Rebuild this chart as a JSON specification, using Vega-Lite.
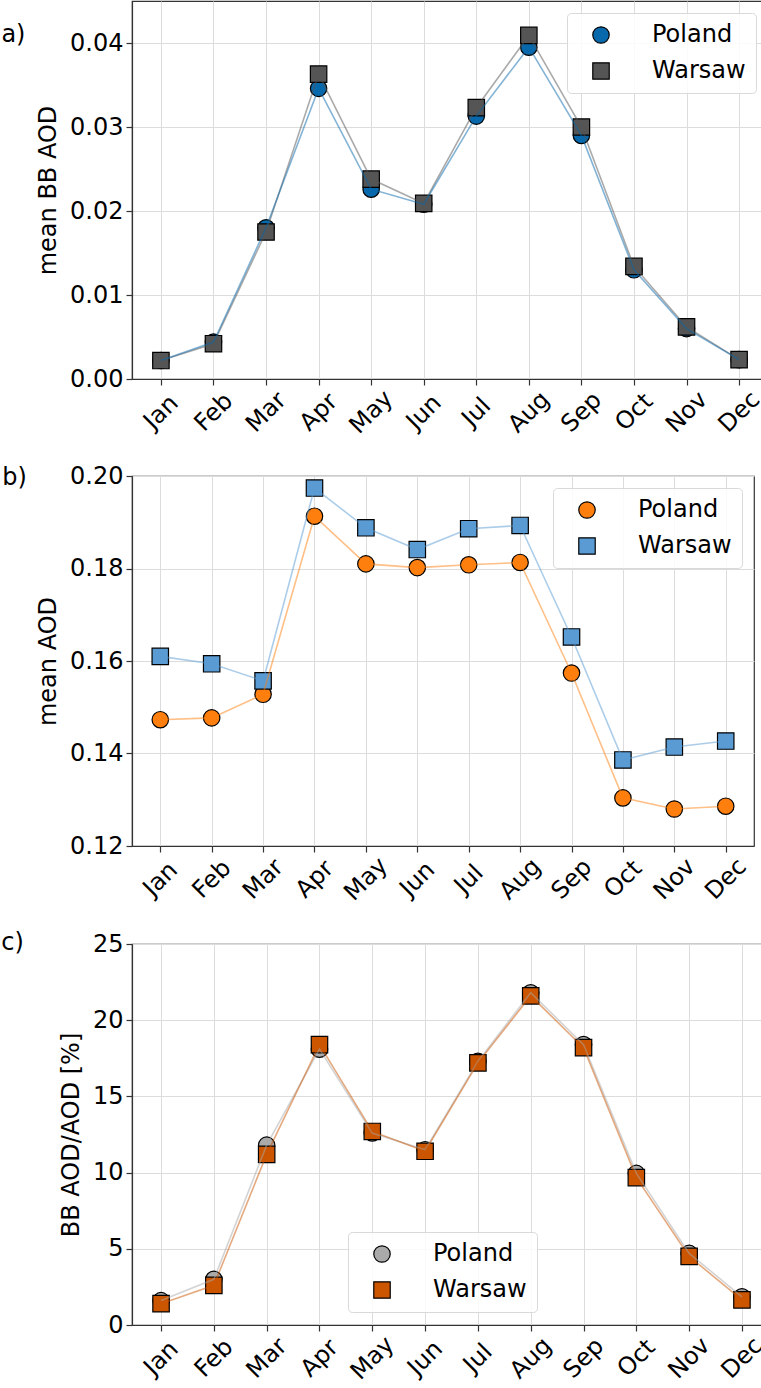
{
  "$schema": "https://vega.github.io/schema/vega-lite/v6.json",
  "padding": {"left": 0, "top": 0, "right": 0, "bottom": 0},
  "spacing": 24,
  "align": "none",
  "resolve": {"scale": {"color": "independent", "shape": "independent"}, "legend": {"color": "independent", "shape": "independent"}},
  "data": {"values": [
    {"month": "Jan", "region": "Poland", "bb": 0.0022, "aod": 0.1473, "ratio": 1.6},
    {"month": "Feb", "region": "Poland", "bb": 0.0044, "aod": 0.1477, "ratio": 3.0},
    {"month": "Mar", "region": "Poland", "bb": 0.0180, "aod": 0.1528, "ratio": 11.8},
    {"month": "Apr", "region": "Poland", "bb": 0.0346, "aod": 0.1913, "ratio": 18.1},
    {"month": "May", "region": "Poland", "bb": 0.0226, "aod": 0.1810, "ratio": 12.6},
    {"month": "Jun", "region": "Poland", "bb": 0.0208, "aod": 0.1802, "ratio": 11.5},
    {"month": "Jul", "region": "Poland", "bb": 0.0313, "aod": 0.1808, "ratio": 17.3},
    {"month": "Aug", "region": "Poland", "bb": 0.0395, "aod": 0.1813, "ratio": 21.8},
    {"month": "Sep", "region": "Poland", "bb": 0.0290, "aod": 0.1574, "ratio": 18.4},
    {"month": "Oct", "region": "Poland", "bb": 0.0130, "aod": 0.1304, "ratio": 9.95},
    {"month": "Nov", "region": "Poland", "bb": 0.0060, "aod": 0.1280, "ratio": 4.7},
    {"month": "Dec", "region": "Poland", "bb": 0.0023, "aod": 0.1286, "ratio": 1.85},
    {"month": "Jan", "region": "Warsaw", "bb": 0.0022, "aod": 0.1610, "ratio": 1.4},
    {"month": "Feb", "region": "Warsaw", "bb": 0.0042, "aod": 0.1594, "ratio": 2.6},
    {"month": "Mar", "region": "Warsaw", "bb": 0.0175, "aod": 0.1557, "ratio": 11.2},
    {"month": "Apr", "region": "Warsaw", "bb": 0.0363, "aod": 0.1974, "ratio": 18.4},
    {"month": "May", "region": "Warsaw", "bb": 0.0238, "aod": 0.1888, "ratio": 12.7},
    {"month": "Jun", "region": "Warsaw", "bb": 0.0209, "aod": 0.1841, "ratio": 11.4},
    {"month": "Jul", "region": "Warsaw", "bb": 0.0323, "aod": 0.1886, "ratio": 17.2},
    {"month": "Aug", "region": "Warsaw", "bb": 0.0409, "aod": 0.1893, "ratio": 21.6},
    {"month": "Sep", "region": "Warsaw", "bb": 0.0300, "aod": 0.1652, "ratio": 18.2},
    {"month": "Oct", "region": "Warsaw", "bb": 0.0134, "aod": 0.1386, "ratio": 9.67},
    {"month": "Nov", "region": "Warsaw", "bb": 0.0062, "aod": 0.1414, "ratio": 4.5},
    {"month": "Dec", "region": "Warsaw", "bb": 0.0023, "aod": 0.1427, "ratio": 1.65}
  ]},
  "config": {
    "font": "DejaVu Sans",
    "view": {"stroke": "#333333", "strokeWidth": 1.2},
    "axis": {
      "labelFont": "DejaVu Sans", "labelFontSize": 24, "labelColor": "black",
      "titleFont": "DejaVu Sans", "titleFontSize": 24, "titleFontWeight": "normal", "titleColor": "black",
      "grid": true, "gridColor": "#dcdcdc", "gridWidth": 1,
      "tickColor": "#333333", "tickSize": 6, "tickWidth": 1.2,
      "domainColor": "#333333", "domainWidth": 1.2,
      "labelPadding": 3, "titlePadding": 9
    },
    "axisX": {"labelAngle": -45, "labelAlign": "center", "labelBaseline": "middle", "labelPadding": 27, "labelOverlap": false, "labelFlush": false},
    "legend": {
      "labelFont": "DejaVu Sans", "labelFontSize": 24, "labelColor": "black",
      "symbolSize": 270, "symbolStrokeColor": "black", "symbolStrokeWidth": 1.2,
      "fillColor": "rgba(255,255,255,0.85)", "strokeColor": "#d9d9d9", "cornerRadius": 4,
      "padding": 10, "rowPadding": 12, "labelOffset": 39, "symbolOffset": 12, "offset": 12
    },
    "title": {"font": "DejaVu Sans", "fontSize": 24, "fontWeight": "normal", "color": "black", "orient": "left", "anchor": "end", "angle": 0, "align": "right", "baseline": "middle", "frame": "group"}
  },
  "vconcat": [
    {
      "width": 636, "height": 378,
      "title": {"text": "a)", "offset": -21, "dy": 22, "dx": -8},
      "encoding": {
        "x": {"field": "month", "type": "ordinal", "sort": ["Jan","Feb","Mar","Apr","May","Jun","Jul","Aug","Sep","Oct","Nov","Dec"], "scale": {"type": "point", "padding": 0.55}, "axis": {"title": null}},
        "y": {"field": "bb", "type": "quantitative", "scale": {"domain": [0, 0.045], "nice": false, "zero": false}, "axis": {"values": [0, 0.01, 0.02, 0.03, 0.04], "format": ".2f", "title": "mean BB AOD"}}
      },
      "layer": [
        {
          "mark": {"type": "point", "filled": true, "opacity": 1, "stroke": "black", "strokeWidth": 1.2, "size": 270},
          "encoding": {
            "color": {"field": "region", "type": "nominal", "scale": {"domain": ["Poland", "Warsaw"], "range": ["#0868ac", "#555555"]}, "legend": {"title": null, "orient": "top-right"}},
            "shape": {"field": "region", "type": "nominal", "scale": {"domain": ["Poland", "Warsaw"], "range": ["circle", "square"]}, "legend": {"title": null, "orient": "top-right"}}
          }
        },
        {"transform": [{"filter": "datum.region === 'Warsaw'"}], "mark": {"type": "line", "color": "#555555", "strokeOpacity": 0.5, "strokeWidth": 1.6}, "encoding": {}},
        {"transform": [{"filter": "datum.region === 'Poland'"}], "mark": {"type": "line", "color": "#0868ac", "strokeOpacity": 0.5, "strokeWidth": 1.6}, "encoding": {}}
      ]
    },
    {
      "width": 622, "height": 370,
      "title": {"text": "b)", "offset": -15, "dy": -10},
      "encoding": {
        "x": {"field": "month", "type": "ordinal", "sort": ["Jan","Feb","Mar","Apr","May","Jun","Jul","Aug","Sep","Oct","Nov","Dec"], "scale": {"type": "point", "padding": 0.55}, "axis": {"title": null}},
        "y": {"field": "aod", "type": "quantitative", "scale": {"domain": [0.12, 0.20], "nice": false, "zero": false}, "axis": {"values": [0.12, 0.14, 0.16, 0.18, 0.20], "format": ".2f", "title": "mean AOD"}}
      },
      "layer": [
        {
          "mark": {"type": "point", "filled": true, "opacity": 1, "stroke": "black", "strokeWidth": 1.2, "size": 270},
          "encoding": {
            "color": {"field": "region", "type": "nominal", "scale": {"domain": ["Poland", "Warsaw"], "range": ["#ff7f0e", "#5a9bd4"]}, "legend": {"title": null, "orient": "top-right"}},
            "shape": {"field": "region", "type": "nominal", "scale": {"domain": ["Poland", "Warsaw"], "range": ["circle", "square"]}, "legend": {"title": null, "orient": "top-right"}}
          }
        },
        {"transform": [{"filter": "datum.region === 'Warsaw'"}], "mark": {"type": "line", "color": "#5a9bd4", "strokeOpacity": 0.5, "strokeWidth": 1.6}, "encoding": {}},
        {"transform": [{"filter": "datum.region === 'Poland'"}], "mark": {"type": "line", "color": "#ff7f0e", "strokeOpacity": 0.5, "strokeWidth": 1.6}, "encoding": {}}
      ]
    },
    {
      "width": 639, "height": 381,
      "title": {"text": "c)", "offset": 3, "dy": -13, "dx": -10},
      "encoding": {
        "x": {"field": "month", "type": "ordinal", "sort": ["Jan","Feb","Mar","Apr","May","Jun","Jul","Aug","Sep","Oct","Nov","Dec"], "scale": {"type": "point", "padding": 0.55}, "axis": {"title": null}},
        "y": {"field": "ratio", "type": "quantitative", "scale": {"domain": [0, 25], "nice": false, "zero": false}, "axis": {"values": [0, 5, 10, 15, 20, 25], "format": "d", "title": "BB AOD/AOD [%]"}}
      },
      "layer": [
        {
          "mark": {"type": "point", "filled": true, "opacity": 1, "stroke": "black", "strokeWidth": 1.2, "size": 270},
          "encoding": {
            "color": {"field": "region", "type": "nominal", "scale": {"domain": ["Poland", "Warsaw"], "range": ["#aaaaaa", "#cc5500"]}, "legend": {"title": null, "orient": "none", "legendX": 216, "legendY": 288}},
            "shape": {"field": "region", "type": "nominal", "scale": {"domain": ["Poland", "Warsaw"], "range": ["circle", "square"]}, "legend": {"title": null, "orient": "none", "legendX": 216, "legendY": 288}}
          }
        },
        {"transform": [{"filter": "datum.region === 'Poland'"}], "mark": {"type": "line", "color": "#aaaaaa", "strokeOpacity": 0.5, "strokeWidth": 1.6}, "encoding": {}},
        {"transform": [{"filter": "datum.region === 'Warsaw'"}], "mark": {"type": "line", "color": "#cc5500", "strokeOpacity": 0.5, "strokeWidth": 1.6}, "encoding": {}}
      ]
    }
  ]
}
